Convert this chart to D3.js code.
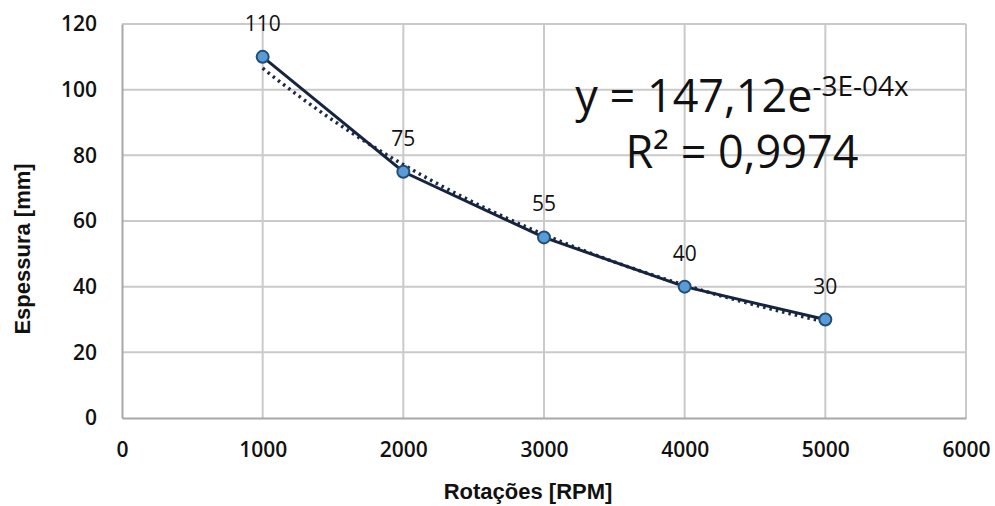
<!DOCTYPE html>
<html>
<head>
<meta charset="utf-8">
<script src="https://cdn.jsdelivr.net/npm/d3@7"></script>
<style>
  body { margin: 0; background: #fff; }
  text { fill: #111; }
</style>
</head>
<body>
<script>
// data
const rpm = [1000, 2000, 3000, 4000, 5000];
const espessura = [110, 75, 55, 40, 30];
const xTicks = [0, 1000, 2000, 3000, 4000, 5000, 6000];
const yTicks = [0, 20, 40, 60, 80, 100, 120];
const eqCoef = '147,12';
const eqExp = '-3E-04x';
const eqR2 = '0,9974';

const width = 995;
const height = 506;
const margin = { top: 24, right: 29, bottom: 88, left: 122 };

const svg = d3.select('body').append('svg')
  .attr('width', width)
  .attr('height', height);

const x = d3.scaleLinear().domain([0, 6000]).range([margin.left, width - margin.right]);
const y = d3.scaleLinear().domain([0, 120]).range([height - margin.bottom, margin.top]);

// grid
svg.append('g')
  .selectAll('line.h')
  .data(yTicks.filter(d => d > 0))
  .join('line')
  .attr('x1', x(0)).attr('x2', x(6000))
  .attr('y1', d => y(d)).attr('y2', d => y(d))
  .attr('stroke', '#cacaca').attr('stroke-width', 2);

svg.append('g')
  .selectAll('line.v')
  .data(xTicks.filter(d => d > 0))
  .join('line')
  .attr('x1', d => x(d)).attr('x2', d => x(d))
  .attr('y1', y(0)).attr('y2', y(120))
  .attr('stroke', '#cacaca').attr('stroke-width', 2);

// axes
const xAxis = svg.append('g')
  .attr('transform', `translate(0,${y(0)})`)
  .call(d3.axisBottom(x).tickValues(xTicks).tickSize(0).tickPadding(24).tickFormat(d3.format('d')));
const yAxis = svg.append('g')
  .attr('transform', `translate(${x(0)},0)`)
  .call(d3.axisLeft(y).tickValues(yTicks).tickSize(0).tickPadding(25).tickFormat(d3.format('d')));

[xAxis, yAxis].forEach(g => {
  g.select('.domain').attr('stroke', '#a8a8a8').attr('stroke-width', 2);
  g.selectAll('text')
    .attr('font-family', 'Open Sans, sans-serif')
    .attr('font-size', 21)
    .attr('font-weight', 600)
    .attr('fill', '#111');
});

// exponential trendline, least squares on ln(y)
const lx = rpm;
const ly = espessura.map(Math.log);
const mx = d3.mean(lx);
const my = d3.mean(ly);
const b = d3.sum(lx.map((v, i) => (v - mx) * (ly[i] - my))) / d3.sum(lx.map(v => (v - mx) ** 2));
const a = Math.exp(my - b * mx);
const trendX = d3.range(rpm[0], rpm[rpm.length - 1] + 1, 50);

svg.append('path')
  .datum(trendX)
  .attr('fill', 'none')
  .attr('stroke', '#1b2a47')
  .attr('stroke-width', 3.5)
  .attr('stroke-dasharray', '2.5,4')
  .attr('d', d3.line().x(d => x(d)).y(d => y(a * Math.exp(b * d))));

// series
const pts = rpm.map((r, i) => ({ r, v: espessura[i] }));

svg.append('path')
  .datum(pts)
  .attr('fill', 'none')
  .attr('stroke', '#16243f')
  .attr('stroke-width', 3)
  .attr('d', d3.line().x(d => x(d.r)).y(d => y(d.v)));

svg.append('g')
  .selectAll('circle')
  .data(pts)
  .join('circle')
  .attr('cx', d => x(d.r))
  .attr('cy', d => y(d.v))
  .attr('r', 6)
  .attr('fill', '#5b9bd5')
  .attr('stroke', '#1f4e79')
  .attr('stroke-width', 2);

svg.append('g')
  .selectAll('text')
  .data(pts)
  .join('text')
  .attr('x', d => x(d.r))
  .attr('y', d => y(d.v) - 26)
  .attr('text-anchor', 'middle')
  .attr('font-family', 'Open Sans, sans-serif')
  .attr('font-size', 21)
  .text(d => d.v);

// equation
const eq = svg.append('text')
  .attr('x', 742)
  .attr('y', 112)
  .attr('text-anchor', 'middle')
  .attr('font-family', 'Open Sans, sans-serif')
  .attr('font-size', 45);
eq.append('tspan').text(`y = ${eqCoef}e`);
eq.append('tspan').attr('font-size', 28).attr('dy', -16).text(eqExp);

svg.append('text')
  .attr('x', 742)
  .attr('y', 168)
  .attr('text-anchor', 'middle')
  .attr('font-family', 'Open Sans, sans-serif')
  .attr('font-size', 45)
  .text(`R² = ${eqR2}`);

// axis titles
svg.append('text')
  .attr('x', 528)
  .attr('y', 499)
  .attr('text-anchor', 'middle')
  .attr('font-family', 'Liberation Sans, Arial, sans-serif')
  .attr('font-weight', 700)
  .attr('font-size', 22)
  .text('Rotações [RPM]');

svg.append('text')
  .attr('transform', 'translate(30,249) rotate(-90)')
  .attr('text-anchor', 'middle')
  .attr('font-family', 'Liberation Sans, Arial, sans-serif')
  .attr('font-weight', 700)
  .attr('font-size', 22)
  .text('Espessura [mm]');
</script>
</body>
</html>
